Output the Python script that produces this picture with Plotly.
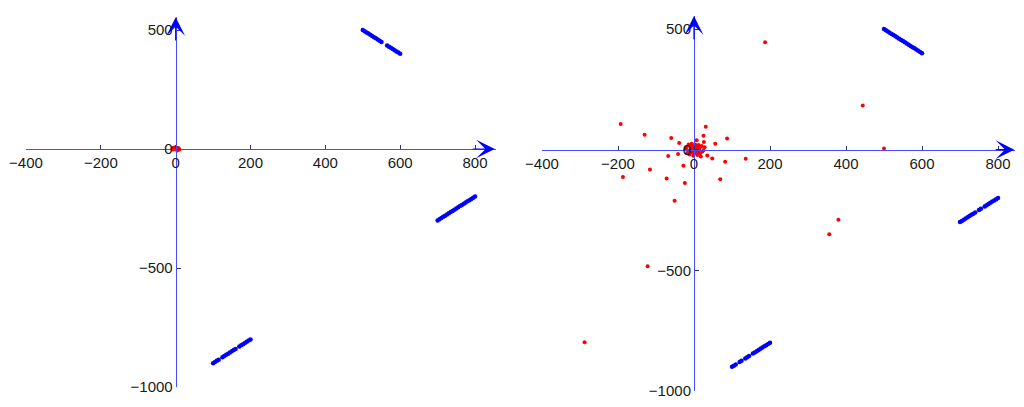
import plotly.graph_objects as go

# ---------------- data ----------------
# left panel blue segments
L_seg1_x = [500, 505, 510, 515, 520, 525, 530, 535, 540, 545, 550, 565, 570, 575, 580, 585, 590, 595, 600]
L_seg1_y = [500, 495, 490, 485, 480, 475, 470, 465, 460, 455, 450, 435, 430, 425, 420, 415, 410, 405, 400]
L_seg2_x = [700, 705, 710, 715, 720, 725, 730, 735, 740, 745, 750, 755, 760, 765, 770, 775, 780, 785, 790, 795, 800]
L_seg2_y = [-300, -295, -290, -285, -280, -275, -270, -265, -260, -255, -250, -245, -240, -235, -230, -225, -220, -215, -210, -205, -200]
L_seg3_x = [100, 105, 110, 115, 125, 130, 135, 140, 145, 150, 155, 160, 170, 175, 180, 185, 190, 195, 200]
L_seg3_y = [-900, -895, -890, -885, -875, -870, -865, -860, -855, -850, -845, -840, -830, -825, -820, -815, -810, -805, -800]

# left panel red points (all collapsed near origin)
L_red_x = [0, 8, -7, 10, -6, 4, -3, 6, -9]
L_red_y = [0, 3, -2, -2, 5, -6, 6, 4, 1]

# right panel blue segments
R_seg1_x = [500, 505, 510, 515, 520, 525, 530, 535, 540, 545, 550, 555, 560, 565, 570, 575, 580, 585, 590, 595, 600]
R_seg1_y = [500, 495, 490, 485, 480, 475, 470, 465, 460, 455, 450, 445, 440, 435, 430, 425, 420, 415, 410, 405, 400]
R_seg2_x = [700, 705, 710, 715, 720, 725, 730, 735, 740, 750, 755, 765, 770, 775, 780, 785, 790, 795, 800]
R_seg2_y = [-300, -295, -290, -285, -280, -275, -270, -265, -260, -250, -245, -235, -230, -225, -220, -215, -210, -205, -200]
R_seg3_x = [100, 105, 110, 120, 125, 135, 140, 145, 155, 160, 165, 170, 175, 180, 185, 190, 195, 200]
R_seg3_y = [-900, -895, -890, -880, -875, -865, -860, -855, -845, -840, -835, -830, -825, -820, -815, -810, -805, -800]

# right panel red points
R_red_x = [187, 444, 500, -193, -130, -60, 31, 25, 87, 56, -39, -68, -42, 48, 82, 136, -28, -116, -187, -72,
           -24, 69, -51, 380, 356, -122, -288, 7, 26, 35, 18, 22,
           -20, -15, -10, -8, -5, -3, 0, 2, 4, 6, 8, 10, 12, 14, 16, -12, -18, -22, 3, -6, 20, 25, 28, -2,
           9, -14, 5, 1, -4, 11, 15, -9, 0, -1]
R_red_y = [445, 183, 5, 107, 62, 48, 95, 58, 46, 25, 28, -26, -18, -36, -50, -37, -66, -82, -113, -119,
           -138, -122, -212, -290, -350, -483, -798, 39, 32, -24, -28, -7,
           10, -5, 15, -12, 5, -3, 0, 8, -6, 12, 2, -10, 20, 5, -15, -20, -15, 2, 22, 25, 15, -2, 10, -25,
           -22, 22, -15, 3, -8, -3, 12, 2, -12, 14]

x_ticks = [-400, -200, 0, 200, 400, 600, 800]
x_tick_text = ["\u2212400", "\u2212200", "0", "200", "400", "600", "800"]
y_ticks = [-1000, -500, 0, 500]
y_tick_text = ["\u22121000", "\u2212500", "0", "500"]

# ---------------- layout geometry ----------------
OFF = 8                      # default page body margin
W, H = 1024 - 2 * OFF, 407 - 2 * OFF
BLUE = "#0000ff"
RED = "#ff0000"
AXC = "#4a4aff"

# page-pixel placement of each panel: x(-400) px, px per unit, y(-1000) px, px per unit
panels = [
    dict(x0=26, sx=0.3742, y0=387, sy=0.238, xr=[-400, 855], yr=[-1000, 556], tipx=853, tipy=554),
    dict(x0=542, sx=0.38, y0=391, sy=0.2413, xr=[-400, 844], yr=[-1000, 556], tipx=843, tipy=554),
]

fig = go.Figure()

def add_panel(i, segs, redx, redy):
    xa = "x" if i == 0 else "x2"
    ya = "y" if i == 0 else "y2"
    for sx, sy in segs:
        fig.add_trace(go.Scatter(x=sx, y=sy, mode="markers", xaxis=xa, yaxis=ya,
                                 marker=dict(color=BLUE, size=4.5, line=dict(width=0)),
                                 showlegend=False, hoverinfo="skip", cliponaxis=False))
    fig.add_trace(go.Scatter(x=redx, y=redy, mode="markers", xaxis=xa, yaxis=ya,
                             marker=dict(color=RED, size=4, line=dict(width=0)),
                             showlegend=False, hoverinfo="skip", cliponaxis=False))

add_panel(0, [(L_seg1_x, L_seg1_y), (L_seg2_x, L_seg2_y), (L_seg3_x, L_seg3_y)], L_red_x, L_red_y)
add_panel(1, [(R_seg1_x, R_seg1_y), (R_seg2_x, R_seg2_y), (R_seg3_x, R_seg3_y)], R_red_x, R_red_y)

layout = dict(width=W, height=H, margin=dict(l=0, r=0, t=0, b=0, pad=0, autoexpand=False),
              paper_bgcolor="white", plot_bgcolor="white", showlegend=False,
              font=dict(family="Liberation Sans, Arial, sans-serif", size=15, color="#1a1a1a"))

annotations = []
for i, p in enumerate(panels):
    XR, YR = p["xr"], p["yr"]
    xpx = (p["x0"], p["x0"] + (XR[1] - XR[0]) * p["sx"])
    ypx = (p["y0"], p["y0"] - (YR[1] - YR[0]) * p["sy"])
    xd = [(xpx[0] - OFF) / W, min(1.0, (xpx[1] - OFF) / W)]
    yd = [1 - (ypx[0] - OFF) / H, min(1.0, 1 - (ypx[1] - OFF) / H)]
    xpos = xd[0] + (0 - XR[0]) / (XR[1] - XR[0]) * (xd[1] - xd[0])
    ypos = yd[0] + (0 - YR[0]) / (YR[1] - YR[0]) * (yd[1] - yd[0])
    sfx = "" if i == 0 else "2"
    common = dict(automargin=False, showline=True, linecolor=AXC, linewidth=1,
                  showgrid=False, zeroline=False, ticklabeloverflow="allow",
                  ticks="inside", ticklen=4, tickcolor="#30307a", tickwidth=1, fixedrange=True)
    layout["xaxis" + sfx] = dict(domain=xd, range=XR, anchor="free", position=ypos,
                                 tickvals=x_ticks, ticktext=x_tick_text, **common)
    layout["yaxis" + sfx] = dict(domain=yd, range=YR, anchor="free", position=xpos,
                                 tickvals=y_ticks, ticktext=y_tick_text, **common)
    xr = "x" + sfx
    yr = "y" + sfx
    annotations.append(dict(x=p["tipx"], y=0, ax=790, ay=0, xref=xr, yref=yr, axref=xr, ayref=yr,
                            text="", showarrow=True, arrowhead=3, arrowsize=2.6, arrowwidth=1.2,
                            arrowcolor=BLUE, standoff=0, startstandoff=0))
    annotations.append(dict(x=0, y=p["tipy"], ax=0, ay=450, xref=xr, yref=yr, axref=xr, ayref=yr,
                            text="", showarrow=True, arrowhead=3, arrowsize=2.6, arrowwidth=1.2,
                            arrowcolor=BLUE, standoff=0, startstandoff=0))

layout["annotations"] = annotations
fig.update_layout(**layout)
fig.write_html("out.html")
